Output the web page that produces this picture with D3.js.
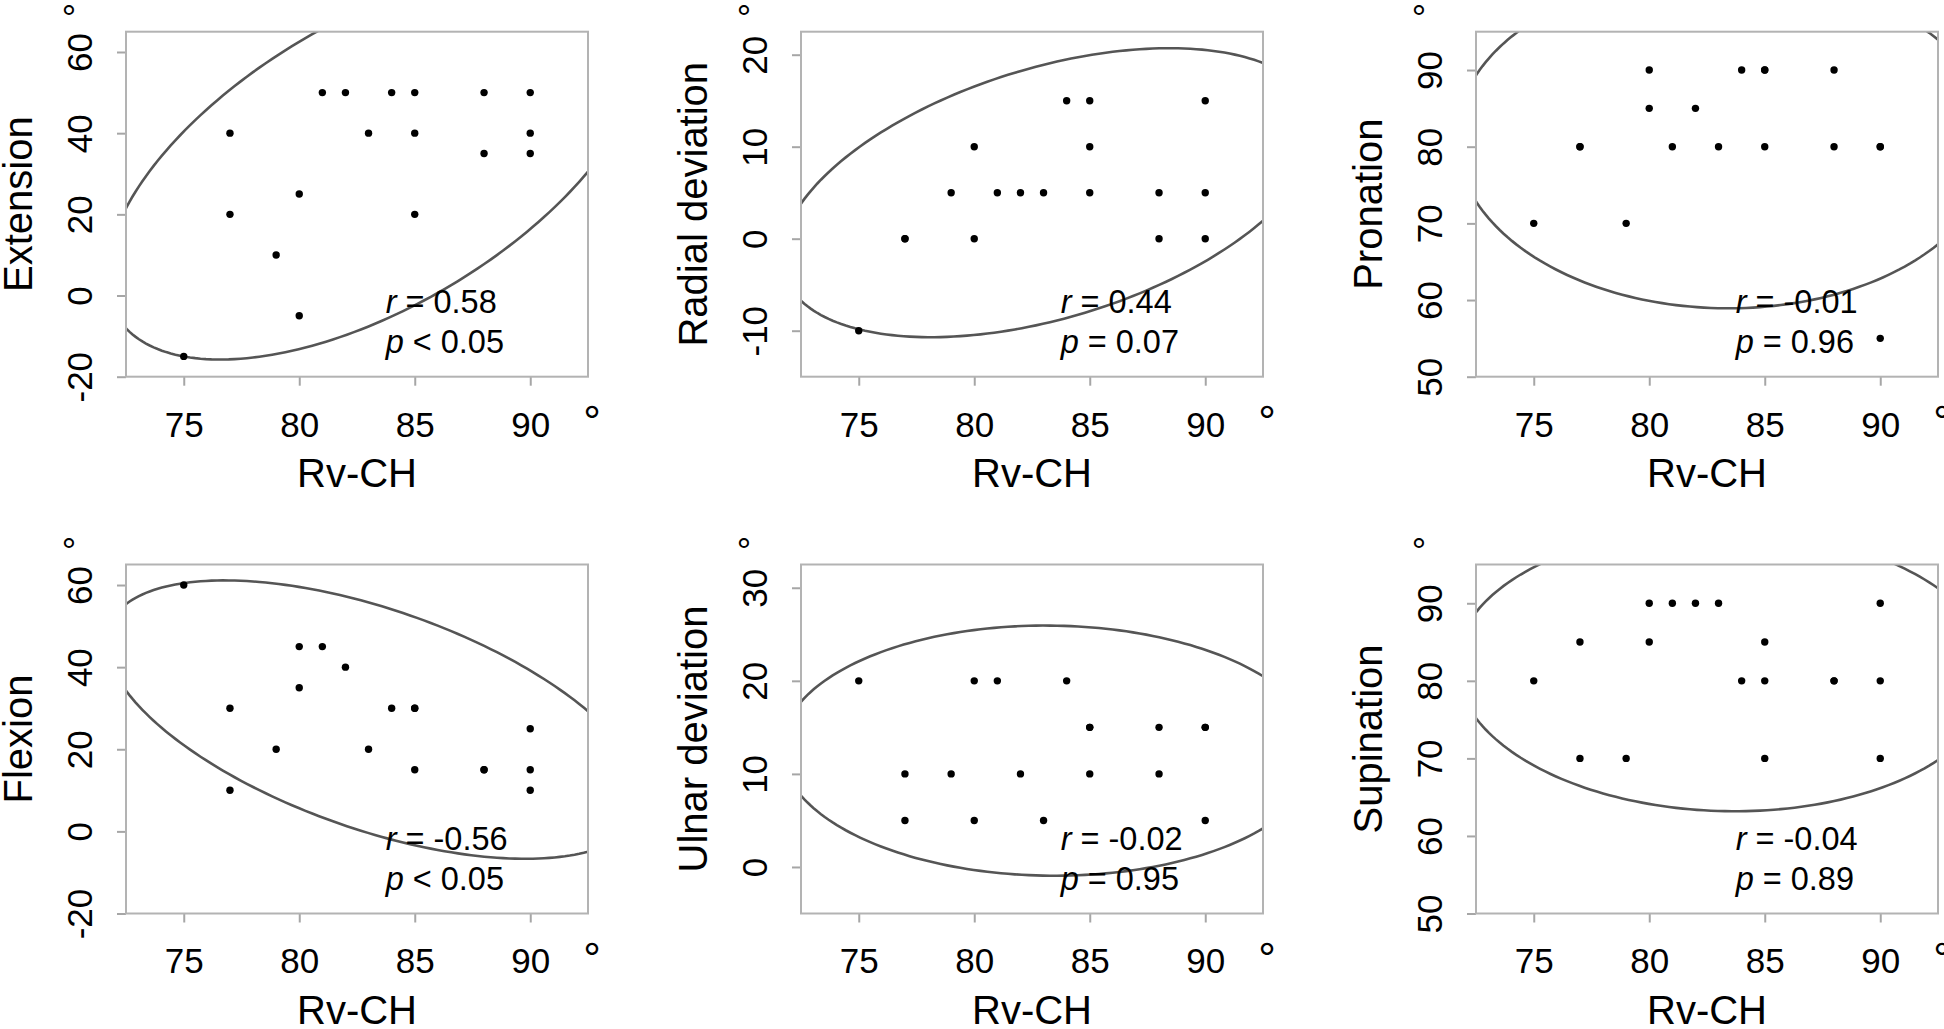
<!DOCTYPE html>
<html>
  <head>
    <meta charset="utf-8">
    <style>
    body { margin: 0; background: #fff; }
    svg { display: block; font-family: "Liberation Sans", Arial, sans-serif; }
    .frame { fill: none; stroke: #b3b3b3; stroke-width: 2px; }
    .tick line { stroke: #a6a6a6; stroke-width: 2px; }
    .tick text { fill: #000; font-size: 35px; }
    .domain { display: none; }
    .ellipse { fill: none; stroke: #555; stroke-width: 2.6px; }
    .title { font-size: 40px; }
    .stat { font-size: 32.5px; }
    </style>
  </head>
  <body>
    <div id="chart-area"></div>

    <script src="https://d3js.org/d3.v7.min.js"></script>
    <script>
      // Rv-CH (x) against each wrist / forearm motion (y), one array per panel
      const extension  = [[75,-15],[77,40],[77,20],[79,10],[80,25],[80,-5],[81,50],[82,50],[83,40],[84,50],[85,50],[85,40],[85,20],[88,50],[88,35],[90,50],[90,40],[90,35]];
      const radial     = [[75,-10],[77,0],[77,0],[79,5],[80,10],[80,0],[81,5],[82,5],[83,5],[84,15],[85,15],[85,10],[85,5],[88,5],[88,0],[90,15],[90,5],[90,0]];
      const pronation  = [[75,70],[77,80],[77,80],[79,70],[80,90],[80,85],[81,80],[82,85],[83,80],[84,90],[85,90],[85,90],[85,80],[88,90],[88,80],[90,80],[90,80],[90,55]];
      const flexion    = [[75,60],[77,30],[77,10],[79,20],[80,45],[80,35],[81,45],[82,40],[83,20],[84,30],[85,30],[85,30],[85,15],[88,15],[88,15],[90,25],[90,15],[90,10]];
      const ulnar      = [[75,20],[77,10],[77,5],[79,10],[80,20],[80,5],[81,20],[82,10],[83,5],[84,20],[85,15],[85,15],[85,10],[88,15],[88,10],[90,15],[90,15],[90,5]];
      const supination = [[75,80],[77,85],[77,70],[79,70],[80,90],[80,85],[81,90],[82,90],[83,90],[84,80],[85,85],[85,80],[85,70],[88,80],[88,80],[90,90],[90,80],[90,70]];

      const series  = [extension, radial, pronation, flexion, ulnar, supination];
      const yLabels = ["Extension", "Radial deviation", "Pronation", "Flexion", "Ulnar deviation", "Supination"];
      const rTexts  = ["0.58", "0.44", "-0.01", "-0.56", "-0.02", "-0.04"];
      const pTexts  = ["< 0.05", "= 0.07", "= 0.96", "< 0.05", "= 0.95", "= 0.89"];
      const yDomains = [[-20, 65], [-15, 22.5], [50, 95], [-20, 65], [-5, 32.5], [50, 95]];
      const yTicks   = [[-20, 0, 20, 40, 60], [-10, 0, 10, 20], [50, 60, 70, 80, 90],
                        [-20, 0, 20, 40, 60], [0, 10, 20, 30], [50, 60, 70, 80, 90]];
      const xTicks  = [75, 80, 85, 90];
      const xDomain = [72.5, 92.5];
      const xLabel  = "Rv-CH";

      const width = 1944;
      const height = 1029;
      const colLeft = [126, 801, 1476];
      const boxW = 462;
      const rowTop = [31.7, 564.5];
      const boxH = [345, 349];
      const k = Math.sqrt(5.991); // 95% normal data ellipse

      const svg = d3.select("#chart-area")
        .append("svg")
          .attr("width", width)
          .attr("height", height);

      // plain hyphen for negatives, like the original
      const fmt = d => String(d);

      function ellipsePoints(pts) {
        const n = pts.length;
        const mx = d3.mean(pts, d => d[0]);
        const my = d3.mean(pts, d => d[1]);
        const sxx = d3.sum(pts, d => (d[0] - mx) ** 2) / (n - 1);
        const syy = d3.sum(pts, d => (d[1] - my) ** 2) / (n - 1);
        const sxy = d3.sum(pts, d => (d[0] - mx) * (d[1] - my)) / (n - 1);
        const l11 = Math.sqrt(sxx);
        const l21 = sxy / l11;
        const l22 = Math.sqrt(syy - l21 * l21);
        return d3.range(0, 241).map(i => {
          const t = i / 240 * 2 * Math.PI;
          return [mx + k * l11 * Math.cos(t), my + k * (l21 * Math.cos(t) + l22 * Math.sin(t))];
        });
      }

      series.forEach((pts, i) => {
        const col = i % 3;
        const row = Math.floor(i / 3);
        const h = boxH[row];

        const g = svg.append("g")
          .attr("transform", `translate(${colLeft[col]}, ${rowTop[row]})`);

        const x = d3.scaleLinear().domain(xDomain).range([0, boxW]);
        const y = d3.scaleLinear().domain(yDomains[i]).range([h, 0]);

        g.append("clipPath")
            .attr("id", "clip" + i)
          .append("rect")
            .attr("width", boxW)
            .attr("height", h);

        // x axis
        const xAxis = g.append("g")
          .attr("transform", `translate(0, ${h})`)
          .call(d3.axisBottom(x).tickValues(xTicks).tickFormat(fmt).tickSize(9).tickPadding(26));
        xAxis.selectAll("text").attr("font-family", null).attr("font-size", null);

        // y axis, labels turned like R's las = 0
        const yAxis = g.append("g")
          .call(d3.axisLeft(y).tickValues(yTicks[i]).tickFormat(fmt).tickSize(9));
        yAxis.selectAll("text")
          .attr("font-family", null).attr("font-size", null)
          .attr("transform", "rotate(-90)")
          .attr("x", 0)
          .attr("y", -34)
          .attr("dy", null)
          .attr("text-anchor", "middle");

        // ellipse
        g.append("path")
          .attr("class", "ellipse")
          .attr("clip-path", `url(#clip${i})`)
          .attr("d", d3.line().x(d => x(d[0])).y(d => y(d[1])).curve(d3.curveLinearClosed)(ellipsePoints(pts)));

        // points
        g.selectAll("circle.pt")
          .data(pts)
          .enter().append("circle")
            .attr("class", "pt")
            .attr("cx", d => x(d[0]))
            .attr("cy", d => y(d[1]))
            .attr("r", 3.7)
            .attr("fill", "#000");

        g.append("rect")
          .attr("class", "frame")
          .attr("width", boxW)
          .attr("height", h);

        // r and p
        const sx = boxW * 0.562;
        g.append("text")
          .attr("class", "stat")
          .attr("x", sx)
          .attr("y", h - 64)
          .call(t => {
            t.append("tspan").attr("font-style", "italic").text("r");
            t.append("tspan").text(" = " + rTexts[i]);
          });
        g.append("text")
          .attr("class", "stat")
          .attr("x", sx)
          .attr("y", h - 24)
          .call(t => {
            t.append("tspan").attr("font-style", "italic").text("p");
            t.append("tspan").text(" " + pTexts[i]);
          });

        // titles
        g.append("text")
          .attr("class", "title")
          .attr("text-anchor", "middle")
          .attr("x", boxW / 2)
          .attr("y", h + 110)
          .text(xLabel);

        g.append("text")
          .attr("class", "title")
          .attr("text-anchor", "middle")
          .attr("transform", `translate(-94, ${h / 2}) rotate(-90)`)
          .text(yLabels[i]);

        // degree marks
        g.append("text")
          .attr("font-size", 44)
          .attr("text-anchor", "middle")
          .attr("x", boxW + 4)
          .attr("y", h + 60)
          .text("°");

        g.append("text")
          .attr("font-size", 36)
          .attr("text-anchor", "middle")
          .attr("x", -57)
          .attr("y", -1)
          .text("°");
      });
    </script>
  </body>
</html>
